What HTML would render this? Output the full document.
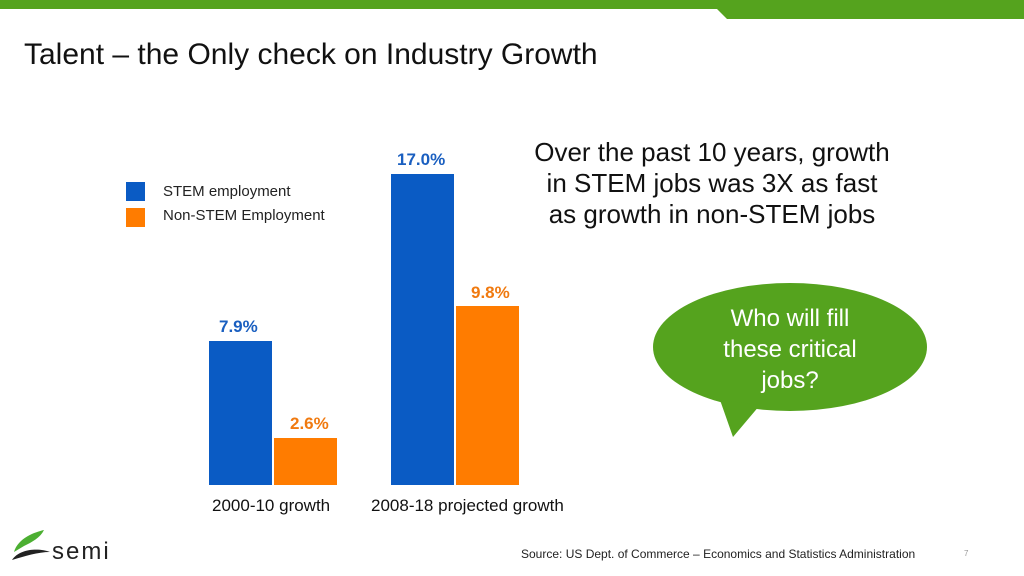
<!DOCTYPE html>
<html><head><style>
body{margin:0;width:1024px;height:576px;background:#fff;position:relative;overflow:hidden;font-family:"Liberation Sans",sans-serif}
.t{position:absolute;white-space:nowrap}
</style></head><body>
<svg width="1024" height="576" style="position:absolute;left:0;top:0">
<polygon points="0,0 1024,0 1024,19 727,19 717,9 0,9" fill="#55a31e"/>
<rect x="209" y="341" width="63" height="144" fill="#0a5bc4"/>
<rect x="274" y="438" width="63" height="47" fill="#ff7c00"/>
<rect x="391" y="174" width="63" height="311" fill="#0a5bc4"/>
<rect x="456" y="306" width="63" height="179" fill="#ff7c00"/>
<rect x="126" y="182" width="19" height="19" fill="#0a5bc4"/>
<rect x="126" y="208" width="19" height="19" fill="#ff7c00"/>
<ellipse cx="790" cy="347" rx="137" ry="64" fill="#55a31e"/>
<polygon points="720,400 760,405 733,437" fill="#55a31e"/>
<path d="M14,552 C18,538 35,532 44,530 C40,538 32,542 24,546 Z" fill="#4caf32"/>
<path d="M12,560 C20,548 40,548 50,552 C38,552 25,556 12,560 Z" fill="#222"/>
</svg>
<div class="t" style="left:24px;top:38px;font-size:30px;color:#111">Talent – the Only check on Industry Growth</div>
<div class="t" style="left:163px;top:183px;font-size:15px;color:#222">STEM employment</div>
<div class="t" style="left:163px;top:207px;font-size:15px;color:#222">Non-STEM Employment</div>
<div class="t" style="left:219px;top:317px;font-size:17px;font-weight:bold;color:#1a5fc0">7.9%</div>
<div class="t" style="left:290px;top:414px;font-size:17px;font-weight:bold;color:#f07a10">2.6%</div>
<div class="t" style="left:397px;top:150px;font-size:17px;font-weight:bold;color:#1a5fc0">17.0%</div>
<div class="t" style="left:471px;top:283px;font-size:17px;font-weight:bold;color:#f07a10">9.8%</div>
<div class="t" style="left:212px;top:496px;font-size:17px;color:#111">2000-10 growth</div>
<div class="t" style="left:371px;top:496px;font-size:17px;color:#111">2008-18 projected growth</div>
<div class="t" style="left:512px;top:137px;width:400px;text-align:center;font-size:26px;line-height:31px;color:#111">Over the past 10 years, growth<br>in STEM jobs was 3X as fast<br>as growth in non-STEM jobs</div>
<div class="t" style="left:690px;top:303px;width:200px;text-align:center;font-size:24px;line-height:31px;color:#fff">Who will fill<br>these critical<br>jobs?</div>
<div class="t" style="left:52px;top:538px;font-size:24px;color:#222;letter-spacing:2px">semi</div>
<div class="t" style="left:521px;top:547px;font-size:12px;color:#222">Source: US Dept. of Commerce – Economics and Statistics Administration</div>
<div class="t" style="left:964px;top:549px;font-size:8px;color:#999">7</div>
</body></html>
